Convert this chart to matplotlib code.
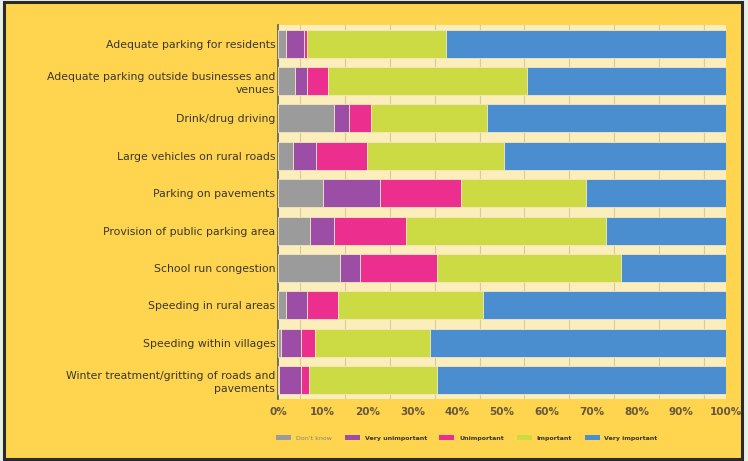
import matplotlib
matplotlib.use("Agg")
import matplotlib.pyplot as plt
from matplotlib.patches import Rectangle, Patch
import numpy as np

categories = [
    "Adequate parking for residents",
    "Adequate parking outside businesses and\nvenues",
    "Drink/drug driving",
    "Large vehicles on rural roads",
    "Parking on pavements",
    "Provision of public parking area",
    "School run congestion",
    "Speeding in rural areas",
    "Speeding within villages",
    "Winter treatment/gritting of roads and\npavements",
]

dont_know        = [1.8, 3.8, 12.4, 3.3, 10.0, 7.1, 13.8, 1.7, 0.6, 0.3]
very_unimportant = [3.9, 2.6, 3.4, 5.1, 12.8, 5.4, 4.5, 4.7, 4.5, 4.8]
unimportant      = [0.7, 4.7, 4.9, 11.4, 18.0, 16.0, 17.3, 7.1, 3.2, 1.9]
important        = [31.0, 44.4, 26.0, 30.6, 27.9, 44.7, 41.0, 32.2, 25.6, 28.6]
very_important   = [62.6, 44.5, 53.3, 49.6, 31.3, 26.8, 23.4, 54.3, 66.1, 64.4]

series_names = ["Don't know", "Very unimportant", "Unimportant", "Important", "Very important"]
series = [dont_know, very_unimportant, unimportant, important, very_important]
colors = ["#9B9B9B", "#9C4EA6", "#EC2F8E", "#CCDA43", "#4A8ED0"]

x_ticks = np.arange(0, 101, 10)
x_tick_labels = [f"{t}%" for t in x_ticks]

fig = plt.figure(figsize=(7.48, 4.61), dpi=100)
fig.patch.set_facecolor("#E6EFE8")

# yellow card with a dark frame, kept behind the axes
card = Rectangle((4 / 748, 2 / 461), 738 / 748, 457 / 461,
                 transform=fig.transFigure, facecolor="#FFD54F",
                 edgecolor="#2B2A26", linewidth=2.2, zorder=-10)
fig.patches.append(card)

ax = fig.add_axes([278 / 748, 1 - 398.7 / 461, 448 / 748, (398.7 - 25) / 461])
ax.set_zorder(1)
ax.set_facecolor("#FBEEBA")

y = np.arange(len(categories))
left = np.zeros(len(categories))
for name, vals, col in zip(series_names, series, colors):
    vals = np.array(vals)
    ax.barh(y, vals, left=left, height=0.75, color=col, edgecolor="#F3E7C4",
            linewidth=0.6, label=name, zorder=3)
    left += vals

ax.set_xlim(0, 100)
ax.set_ylim(len(categories) - 0.5, -0.5)

ax.set_xticks(np.arange(0, 101, 5), minor=True)
ax.grid(axis="x", which="minor", color="#D8C99E", linewidth=0.8, zorder=1)
ax.set_axisbelow(True)

ax.set_xticks(x_ticks)
ax.set_xticklabels(x_tick_labels, fontsize=7.5, color="#66573C", fontweight="bold")
for lbl in ax.get_xticklabels():
    lbl.set_x(lbl.get_position()[0])
ax.set_yticks(y)
ax.set_yticklabels(categories, fontsize=7.8, color="#3A362E", linespacing=1.35)
ax.tick_params(axis="both", which="both", length=0)
ax.tick_params(axis="x", pad=6)
ax.tick_params(axis="y", pad=2)

for s in ["top", "right", "bottom"]:
    ax.spines[s].set_visible(False)
ax.spines["left"].set_color("#5A5A5A")
ax.spines["left"].set_linewidth(1.2)

handles = [Patch(facecolor=c, edgecolor="none") for c in colors]
leg = fig.legend(handles, series_names, loc="center", bbox_to_anchor=(467 / 748, 1 - 438 / 461),
                 ncol=5, frameon=False, fontsize=4.5, handlelength=2.4, handleheight=0.9,
                 columnspacing=2.0, handletextpad=0.8)
for t in leg.get_texts():
    t.set_color("#3A362E")
    t.set_fontweight("bold")
leg.get_texts()[0].set_color("#8A8070")
leg.get_texts()[0].set_fontweight("normal")

fig.savefig("out.png", dpi=100, facecolor=fig.get_facecolor())
